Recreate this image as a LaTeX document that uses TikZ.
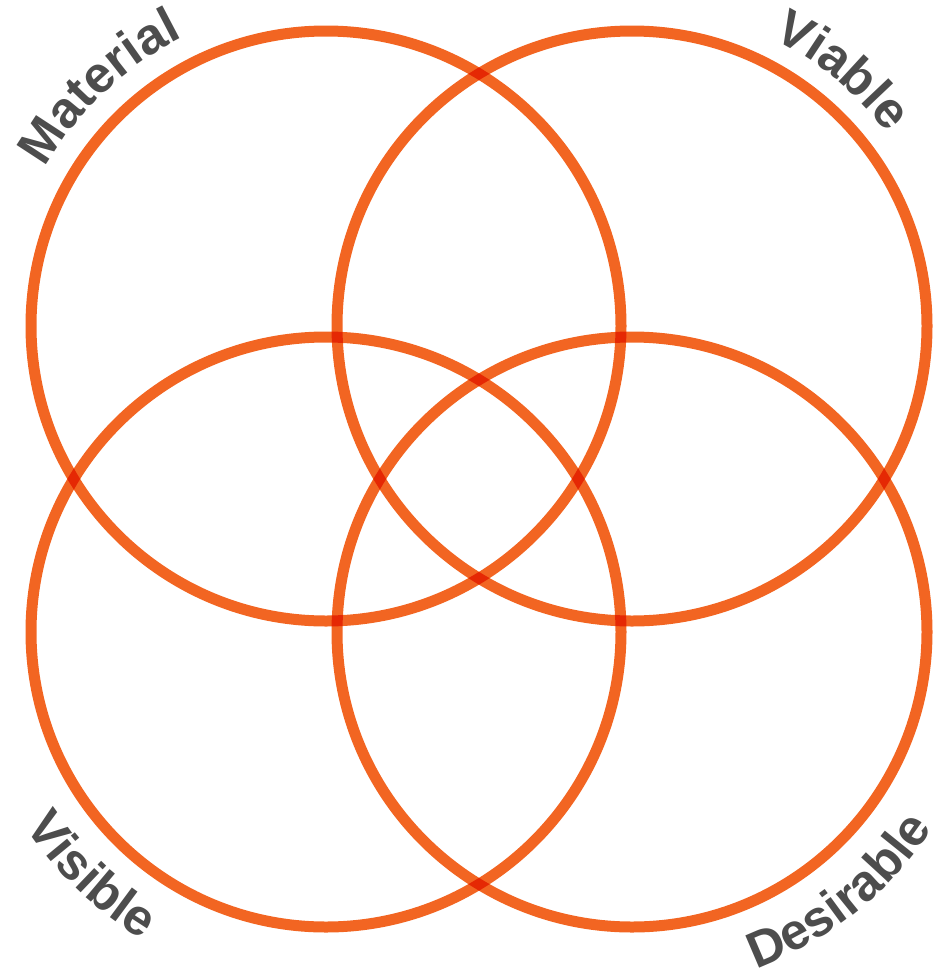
\documentclass[tikz,border=0pt]{standalone}
\usepackage{fontspec}
\setmainfont{Liberation Sans}
\usetikzlibrary{decorations.text}
\definecolor{ringorange}{RGB}{242,101,34}
\definecolor{labgray}{RGB}{77,77,77}
\newcommand\labfont{\fontsize{25.5}{25.5}\selectfont\bfseries\color{labgray}}
\tikzset{
  ring/.style={draw=ringorange, line width=5.5pt},
  arclabel/.style={decorate, decoration={text along path, text align=center, text={|\labfont|#1}}}
}
\begin{document}
\begin{tikzpicture}[x=0.5pt,y=0.5pt]
\useasboundingbox (0,0) rectangle (951,-975);
\coordinate (TL) at (326,-326);
\coordinate (TR) at (632,-326);
\coordinate (BL) at (326,-632);
\coordinate (BR) at (632,-632);
\begin{scope}[blend group=multiply]
\draw[ring] (TL) circle[radius=147.5pt];
\draw[ring] (TR) circle[radius=147.5pt];
\draw[ring] (BL) circle[radius=147.5pt];
\draw[ring] (BR) circle[radius=147.5pt];
\end{scope}
\path[arclabel=Material] (TL) ++(173.5:161pt) arc[start angle=173.5, end angle=93.5, radius=161pt];
\path[arclabel=Viable] (TR) ++(90.5:160pt) arc[start angle=90.5, end angle=10.5, radius=160pt];
\path[arclabel=Visible] (BL) ++(186:179pt) arc[start angle=186, end angle=266, radius=179pt];
\path[arclabel=Desirable] (BR) ++(-91.5:179.5pt) arc[start angle=-91.5, end angle=-11.5, radius=179.5pt];
\end{tikzpicture}
\end{document}
